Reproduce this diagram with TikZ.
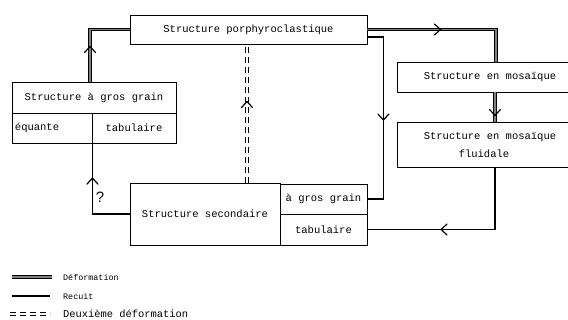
\documentclass[tikz,border=0pt]{standalone}
\usepackage{fontspec}
\setmainfont{Liberation Mono}
\newfontfamily\qfont{Liberation Sans}
\usetikzlibrary{decorations.markings,calc}
\tikzset{
  box/.style={draw, line width=0.9pt, inner sep=0pt},
  deform/.style={draw=black, line width=1pt, double=gray, double distance=1.1pt},
  recuit/.style={draw=black, line width=1.2pt},
  deux/.style={draw=black, line width=1pt, double=white, double distance=1.6pt, dash pattern=on 6pt off 4pt},
  marr/.style={postaction={decorate, decoration={markings, mark=at position #1 with {\draw[line width=1.2pt, solid, line cap=round, line join=miter] (-6pt,-5.5pt) -- (0pt,0pt) -- (-6pt,5.5pt);}}}},
  lgsmall/.style={anchor=west, inner sep=0pt, font=\fontsize{8.4}{10}\selectfont},
  lgbig/.style={anchor=west, inner sep=0pt, font=\fontsize{10.4}{12}\selectfont}
}
\begin{document}
\begin{tikzpicture}[x=1pt, y=-1pt, font=\fontsize{10.5}{12}\selectfont]
\useasboundingbox (0,0) rectangle (568,320);
\clip (0,0) rectangle (568,320);

% boxes
\node[box, minimum width=237pt, minimum height=29pt] (po) at (248.5,29.5) {Structure porphyroclastique};
\node[box, minimum width=164pt, minimum height=31pt] (ggt) at (94,97.5) {Structure à gros grain};
\node[box, minimum width=80pt, minimum height=30pt, text width=74pt, align=left] (gge) at (52,128) {équante};
\node[box, minimum width=84pt, minimum height=30pt] (ggtab) at (134,128) {tabulaire};
\node[box, minimum width=150pt, minimum height=62pt] (sec) at (205,214) {Structure secondaire};
\node[box, minimum width=87pt, minimum height=30pt] (secg) at (323.5,199) {à gros grain};
\node[box, minimum width=87pt, minimum height=31pt, text width=75pt, align=center] (sect) at (323.5,229.5) {tabulaire\hspace*{8pt}};
\node[box, minimum width=186pt, minimum height=30pt] (mo) at (490,77) {Structure en mosaïque};
\node[box, minimum width=186pt, minimum height=45pt, align=center] (fl) at (490,144.5) {Structure en mosaïque\\[6pt]fluidale\hspace*{12pt}};

% connectors
\draw[deform] ($(ggt.north)+(-4,0)$) |- (po.west);
\path[marr=35pt] ($(ggt.north)+(-4,0)$) |- (po.west);

\draw[deform] (po.east) -| ($(mo.north)+(6,0)$);
\path[marr=73pt] (po.east) -| ($(mo.north)+(6,0)$);

\draw[recuit] ($(po.east)+(0,7.5)$) -| ($(secg.east)+(16,0)$) -- (secg.east);
\path[marr=99pt] ($(po.east)+(0,7.5)$) -| ($(secg.east)+(16,0)$) -- (secg.east);

\draw[deform] ($(mo.south)+(5,0)$) -- ($(fl.north)+(5,0)$);
\path[marr=23pt] ($(mo.south)+(5,0)$) -- ($(fl.north)+(5,0)$);

\draw[recuit] ($(fl.south)+(5,0)$) |- (sect.east);
\path[marr=116pt] ($(fl.south)+(5,0)$) |- (sect.east);

\draw[recuit] (sec.west) -| (gge.south east);
\path[marr=73pt] (sec.west) -| (gge.south east);
\node[font=\qfont\fontsize{15}{15}\selectfont, inner sep=0pt] (q) at (100,197) {?};

\draw[deux] ($(sec.north)+(42,0)$) -- ($(po.south)+(-1.5,0)$);
\path[marr=81pt] ($(sec.north)+(42,0)$) -- ($(po.south)+(-1.5,0)$);

% legend
\coordinate (l1a) at (12,277); \coordinate (l1b) at (52,277);
\coordinate (l2a) at (12,296); \coordinate (l2b) at (50,296);
\coordinate (l3a) at (10,314); \coordinate (l3b) at (50,314);
\draw[deform] (l1a) -- (l1b);
\draw[recuit] (l2a) -- (l2b);
\draw[deux] (l3a) -- (l3b);
\node[lgsmall] (t1) at (63,277) {Déformation};
\node[lgsmall] (t2) at (63,296) {Recuit};
\node[lgbig] (t3) at (63,313.5) {Deuxième déformation};
\end{tikzpicture}
\end{document}
